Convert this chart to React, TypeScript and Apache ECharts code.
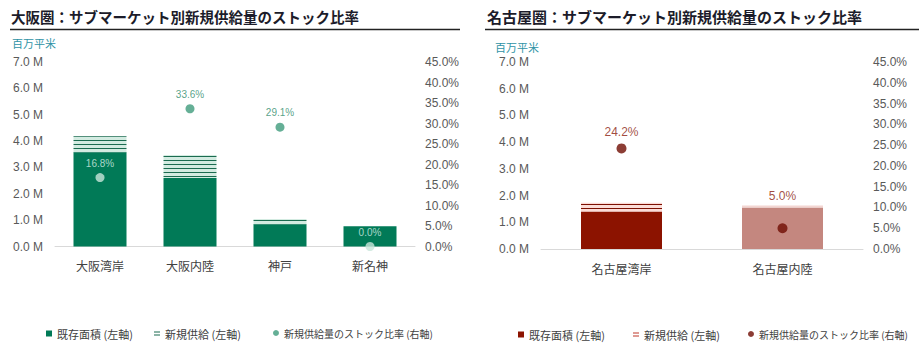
import React, { useEffect, useRef } from "react";
import * as echarts from "echarts";

// ---- Data ----
const osakaCategories = ["大阪湾岸", "大阪内陸", "神戸", "新名神"];
const osakaExisting = [3.58, 2.6, 0.84, 0.77];
const osakaNew = [0.6, 0.87, 0.2, 0];
const osakaRatio = [16.8, 33.6, 29.1, 0.0];

const nagoyaCategories = ["名古屋湾岸", "名古屋内陸"];
const nagoyaExisting = [1.4, 1.55];
const nagoyaNew = [0.33, 0.075];
const nagoyaRatio = [24.2, 5.0];

const leftTicks = { min: 0, max: 7, interval: 1 };
const rightTicks = { min: 0, max: 45, interval: 5 };

const legendNames = ["既存面積 (左軸)", "新規供給 (左軸)", "新規供給量のストック比率 (右軸)"];

const FONT = '"Liberation Sans", Arial, "Noto Sans CJK JP", sans-serif';
const CJK = '"Noto Sans CJK JP", "Liberation Sans", sans-serif';

function stripe(bg: string, line: string) {
  const c = document.createElement("canvas");
  c.width = 4;
  c.height = 4;
  const ctx = c.getContext("2d")!;
  ctx.fillStyle = bg;
  ctx.fillRect(0, 0, 4, 4);
  ctx.fillStyle = line;
  ctx.fillRect(0, 0, 4, 1);
  return { image: c, repeat: "repeat", imageWidth: 4, imageHeight: 4 } as any;
}

type Cfg = {
  title: string;
  titleX: number;
  titleSize: number;
  lineX1: number;
  lineX2: number;
  unitX: number;
  unitY: number;
  grid: any;
  categories: string[];
  existing: number[];
  newSupply: number[];
  ratio: number[];
  barWidth: number;
  existingColors: string[];
  hatch: any;
  hatchOverride: (string | null)[];
  dotColors: string[];
  labelColors: string[];
  labelOffsets: number[];
  labelSize: number;
  dotSize: number;
  legendIconColors: string[];
  legendLefts: number[];
  legendTop: number;
};

const legendFontSizes = [11, 11, 10];

function buildOption(c: Cfg): any {
  const legends = legendNames.map((n, i) => ({
    left: c.legendLefts[i],
    top: c.legendTop,
    padding: 0,
    itemWidth: 6,
    itemHeight: 6,
    textStyle: { fontSize: legendFontSizes[i], color: "#404040", fontFamily: CJK },
    selectedMode: false,
    data: [
      {
        name: n,
        icon: i === 0 ? "rect" : i === 1 ? "path://M0,0H10V2H0Z M0,5H10V7H0Z" : "circle",
        itemStyle: { color: c.legendIconColors[i] },
      },
    ],
  }));
  return {
    animation: false,
    graphic: [
      {
        type: "text",
        x: c.titleX,
        y: 16,
        style: {
          text: c.title,
          font: `bold ${c.titleSize}px ${CJK}`,
          fill: "#1c1c2a",
          textVerticalAlign: "middle",
        },
      },
      {
        type: "line",
        shape: { x1: c.lineX1, y1: 29.5, x2: c.lineX2, y2: 29.5 },
        style: { stroke: "#222", lineWidth: 1.5 },
      },
      {
        type: "text",
        x: c.unitX,
        y: c.unitY,
        style: {
          text: "百万平米",
          font: `11px ${CJK}`,
          fill: "#2f93a6",
          textVerticalAlign: "middle",
        },
      },
    ],
    legend: legends,
    grid: c.grid,
    xAxis: {
      type: "category",
      data: c.categories,
      axisLine: { lineStyle: { color: "#d9d9d9" } },
      axisTick: { show: false },
      axisLabel: { fontSize: 12, color: "#404040", margin: 13, fontFamily: CJK },
    },
    yAxis: [
      {
        type: "value",
        ...leftTicks,
        axisLine: { show: false },
        axisTick: { show: false },
        splitLine: { show: false },
        axisLabel: {
          fontSize: 12,
          color: "#595959",
          margin: 12,
          fontFamily: FONT,
          formatter: (v: number) => `${v.toFixed(1)} M`,
        },
      },
      {
        type: "value",
        position: "right",
        ...rightTicks,
        axisLine: { show: false },
        axisTick: { show: false },
        splitLine: { show: false },
        axisLabel: {
          fontSize: 12,
          color: "#595959",
          margin: 10,
          fontFamily: FONT,
          formatter: (v: number) => `${v.toFixed(1)}%`,
        },
      },
    ],
    series: [
      {
        name: legendNames[0],
        type: "bar",
        stack: "s",
        barWidth: c.barWidth,
        data: c.existing.map((v, i) => ({ value: v, itemStyle: { color: c.existingColors[i] } })),
      },
      {
        name: legendNames[1],
        type: "bar",
        stack: "s",
        barWidth: c.barWidth,
        data: c.newSupply.map((v, i) => ({
          value: v,
          itemStyle: { color: c.hatchOverride[i] ?? c.hatch },
        })),
      },
      {
        name: legendNames[2],
        type: "scatter",
        yAxisIndex: 1,
        symbolSize: c.dotSize,
        z: 5,
        data: c.ratio.map((v, i) => ({
          value: v,
          itemStyle: { color: c.dotColors[i] },
          label: {
            show: true,
            position: "top",
            offset: [0, c.labelOffsets[i]],
            color: c.labelColors[i],
            fontSize: c.labelSize,
            fontFamily: FONT,
            formatter: `${v.toFixed(1)}%`,
          },
        })),
      },
    ],
  };
}

function Chart({ cfg, left, width }: { cfg: () => Cfg; left: number; width: number }) {
  const ref = useRef<HTMLDivElement>(null);
  useEffect(() => {
    if (!ref.current) return;
    const chart = echarts.init(ref.current, undefined, { renderer: "svg" });
    chart.setOption(buildOption(cfg()));
    return () => chart.dispose();
  }, []);
  return (
    <div
      ref={ref}
      style={{ position: "absolute", left, top: 0, width, height: 355 }}
    />
  );
}

const osakaCfg = (): Cfg => ({
  title: "大阪圏：サブマーケット別新規供給量のストック比率",
  titleX: 11,
  titleSize: 14.5,
  lineX1: 10,
  lineX2: 460,
  unitX: 12,
  unitY: 43,
  grid: { left: 55, right: 50, top: 62, bottom: 108.5 },
  categories: osakaCategories,
  existing: osakaExisting,
  newSupply: osakaNew,
  ratio: osakaRatio,
  barWidth: 53,
  existingColors: ["#017a57", "#017a57", "#017a57", "#017a57"],
  hatch: stripe("#d3ebe1", "#1b6b50"),
  hatchOverride: [null, null, null, null],
  dotColors: ["#c9e6db", "#3f9b7c", "#3f9b7c", "#c9e6db"],
  labelColors: ["#d6eee5", "#2d8a69", "#2d8a69", "#d6eee5"],
  labelOffsets: [0, 0, 0, 0],
  labelSize: 10,
  dotSize: 9,
  legendIconColors: ["#017a57", "#1b6b50", "#3f9b7c"],
  legendLefts: [46, 154, 273],
  legendTop: 328,
});

const nagoyaCfg = (): Cfg => ({
  title: "名古屋圏：サブマーケット別新規供給量のストック比率",
  titleX: 22,
  titleSize: 15,
  lineX1: 20,
  lineX2: 454,
  unitX: 30,
  unitY: 47,
  grid: { left: 76, right: 56, top: 62, bottom: 106 },
  categories: nagoyaCategories,
  existing: nagoyaExisting,
  newSupply: nagoyaNew,
  ratio: nagoyaRatio,
  barWidth: 81,
  existingColors: ["#8c1300", "#c4877f"],
  hatch: stripe("#fbdcd7", "#7c0f02"),
  hatchOverride: [null, "#f3d6d2"],
  dotColors: ["#6f0c02", "#6f0c02"],
  labelColors: ["#8a1a0e", "#8a1a0e"],
  labelOffsets: [0, -16],
  labelSize: 12,
  dotSize: 10,
  legendIconColors: ["#8c1300", "#c0392b", "#6f0c02"],
  legendLefts: [53, 168, 283],
  legendTop: 329,
});

export default function App() {
  return (
    <div style={{ position: "absolute", left: 0, top: 0, width: 919, height: 355, background: "#fff" }}>
      <Chart cfg={osakaCfg} left={0} width={465} />
      <Chart cfg={nagoyaCfg} left={465} width={454} />
    </div>
  );
}
